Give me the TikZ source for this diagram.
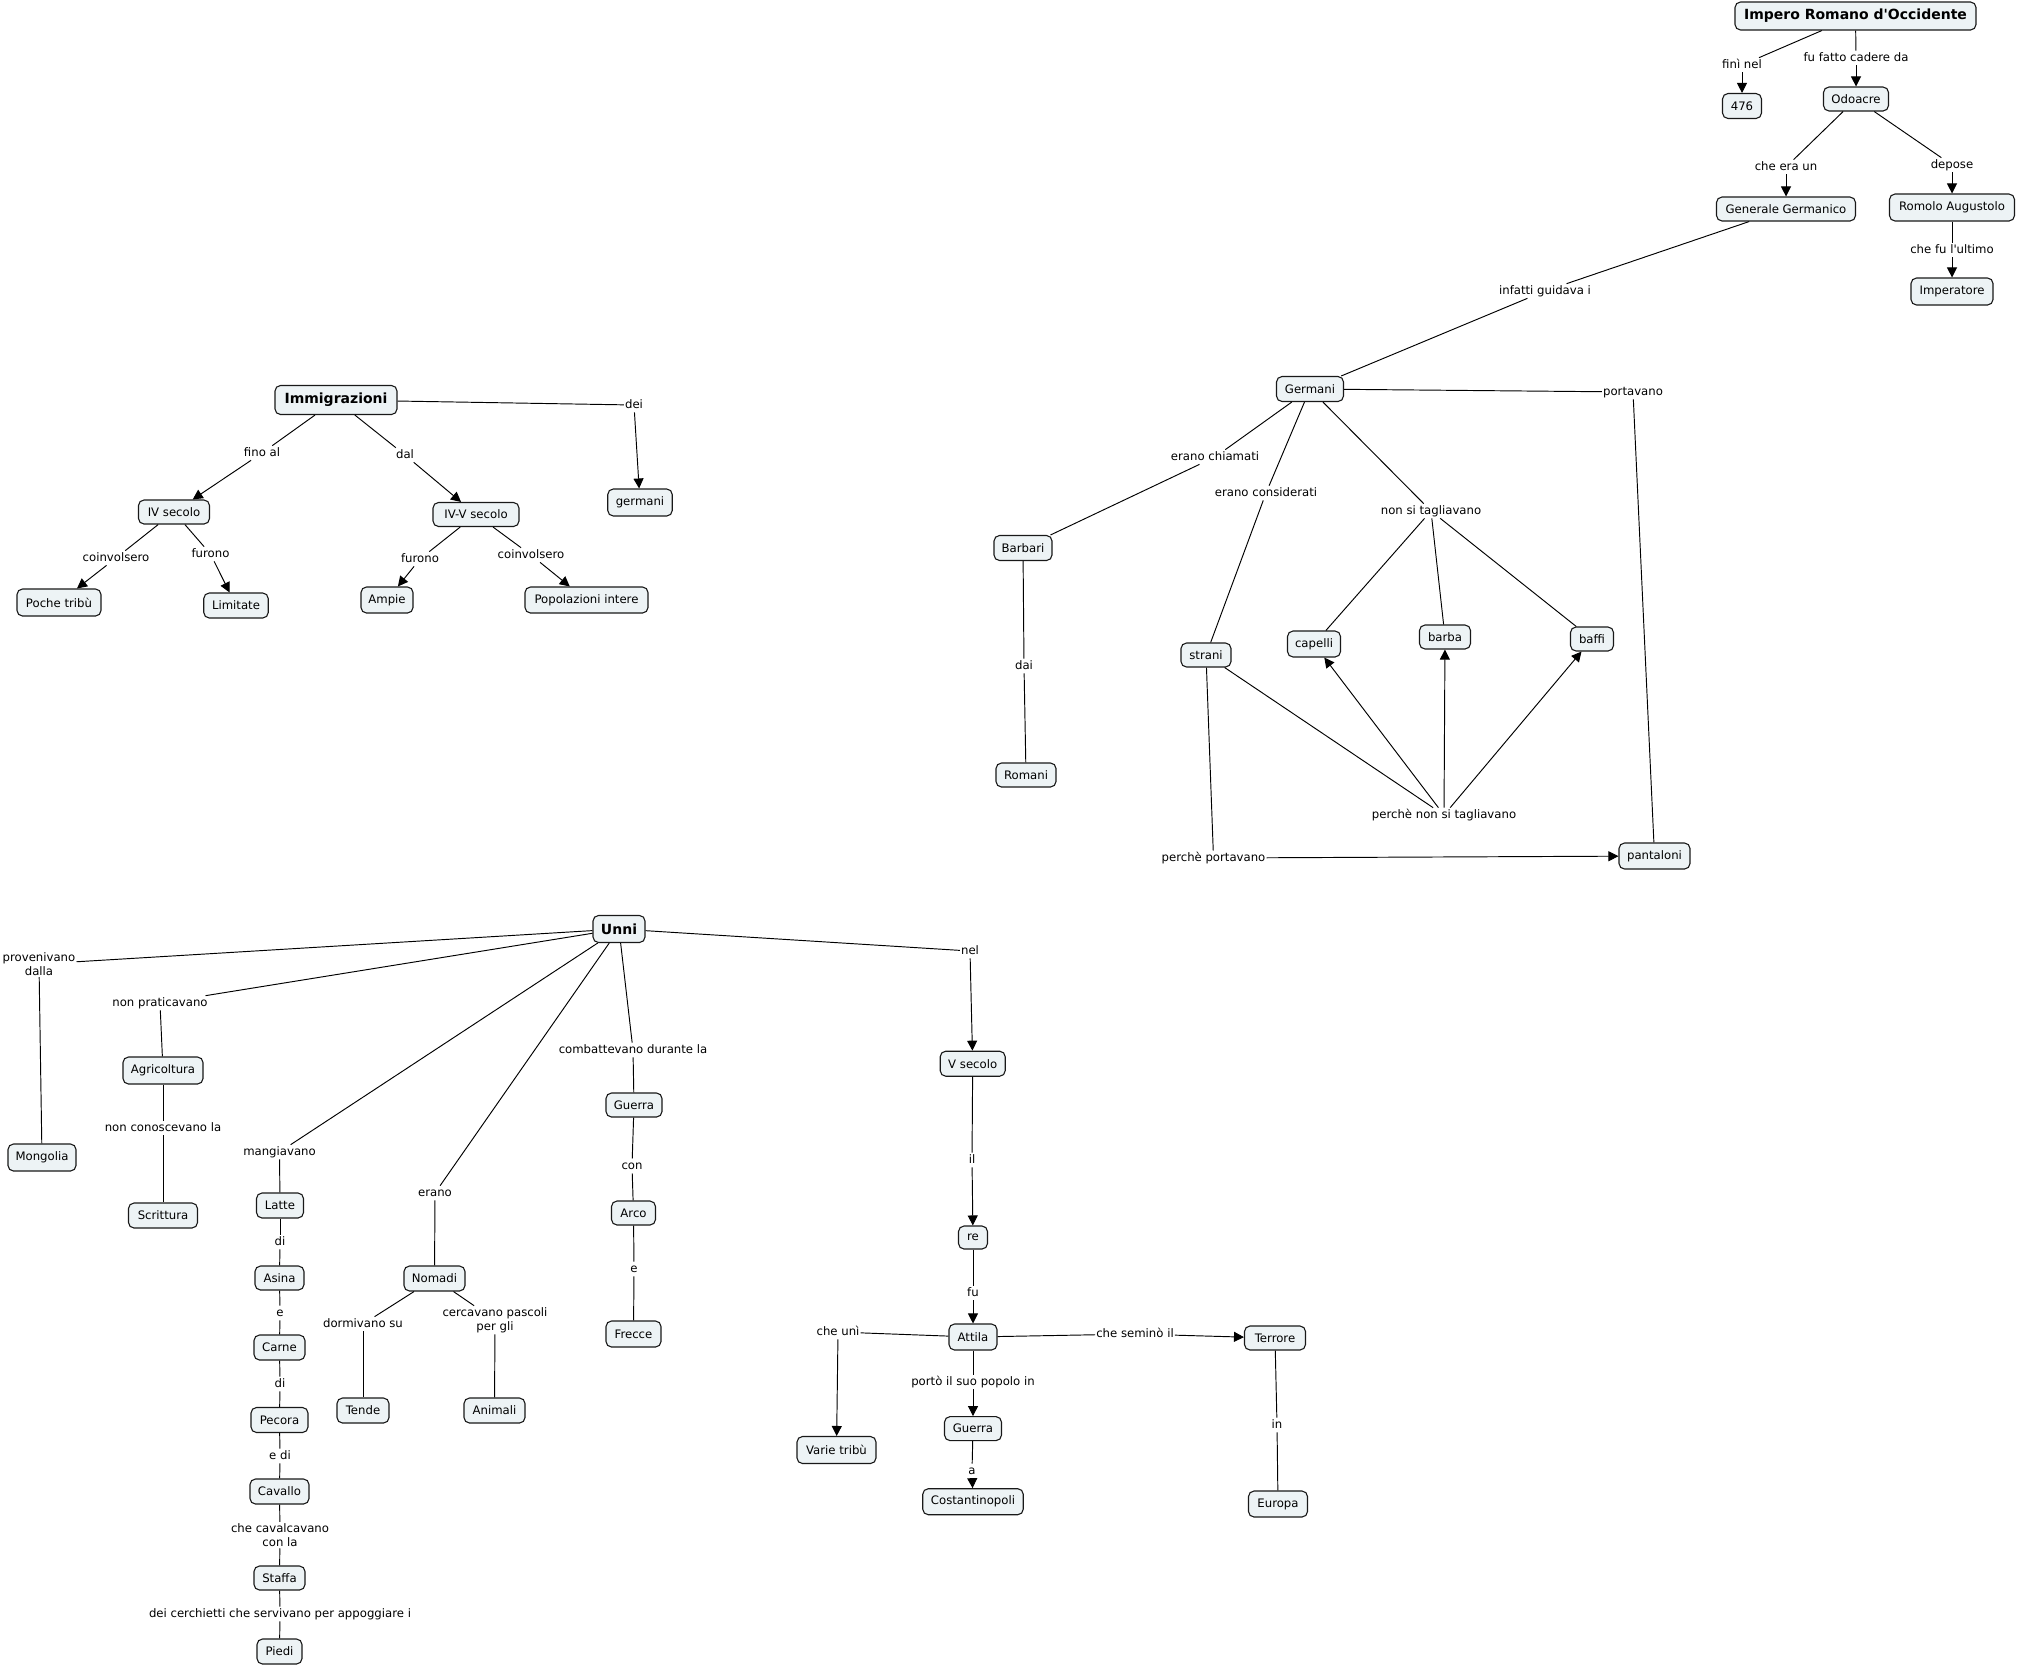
\documentclass[tikz,border=0pt]{standalone}
\usepackage{fontspec}
\setmainfont{DejaVu Sans}
\usetikzlibrary{arrows.meta}
\definecolor{cfill}{RGB}{237,243,245}
\definecolor{cline}{RGB}{25,25,25}
\begin{document}
\begin{tikzpicture}[x=1pt,y=-1pt,
 concept/.style={draw=cline, line width=1.1pt, fill=cfill, rounded corners=5.5pt, inner xsep=4pt, inner ysep=0pt, minimum height=25pt, font=\fontsize{11.7}{14}\selectfont},
 main/.style={concept, font=\fontsize{14}{16}\selectfont\bfseries, minimum height=28pt},
 lbl/.style={inner xsep=1pt, inner ysep=1.5pt, text height=8.7pt, text depth=2.6pt, font=\fontsize{11.7}{14}\selectfont},
 lbltwo/.style={inner xsep=1pt, inner ysep=1.5pt, align=center, font=\fontsize{11.7}{14}\selectfont},
 conn/.style={draw=black, line width=0.95pt},
 arr/.style={conn, -{Triangle[length=10pt,width=10pt]}},
]
\fill[white] (0,0) rectangle (2017,1666);
\useasboundingbox (0,0) rectangle (2017,1666);

% ---------- Impero Romano ----------
\node[main, minimum width=241pt] (impero) at (1855.5,16) {Impero Romano d\textquotesingle Occidente};
\node[concept, minimum width=39pt] (n476) at (1742,106) {476};
\node[concept, minimum width=65pt, minimum height=24pt] (odoacre) at (1856,99) {Odoacre};
\node[concept, minimum width=139pt, minimum height=24pt] (genger) at (1786,209) {Generale Germanico};
\node[concept, minimum width=125pt, minimum height=27pt] (romolo) at (1952,207.5) {Romolo Augustolo};
\node[concept, minimum width=82pt, minimum height=27pt] (imperatore) at (1952,291.5) {Imperatore};

\node[lbl] (lfini) at (1742,65) {finì nel};
\node[lbl] (lfatto) at (1856,58) {fu fatto cadere da};
\node[lbl] (lcheera) at (1786,167) {che era un};
\node[lbl] (ldepose) at (1952,165) {depose};
\node[lbl] (lultimo) at (1952,250) {che fu l\textquotesingle ultimo};
\node[lbl] (linfatti) at (1545,291) {infatti guidava i};

\draw[conn] (impero) -- (lfini);
\draw[arr] (lfini) -- (n476);
\draw[conn] (impero) -- (lfatto);
\draw[arr] (lfatto) -- (odoacre);
\draw[conn] (odoacre) -- (lcheera);
\draw[arr] (lcheera) -- (genger);
\draw[conn] (odoacre) -- (ldepose);
\draw[arr] (ldepose) -- (romolo);
\draw[conn] (romolo) -- (lultimo);
\draw[arr] (lultimo) -- (imperatore);

% ---------- Germani ----------
\node[concept, minimum width=67pt] (germani) at (1310,389) {Germani};
\node[concept, minimum width=58pt] (barbari) at (1023,548) {Barbari};
\node[concept, minimum width=60pt, minimum height=24pt] (romani) at (1026,775) {Romani};
\node[concept, minimum width=50pt, minimum height=24pt] (strani) at (1206,655) {strani};
\node[concept, minimum width=53pt, minimum height=26pt] (capelli) at (1314,644) {capelli};
\node[concept, minimum width=51pt, minimum height=24pt] (barba) at (1445,637) {barba};
\node[concept, minimum width=43pt, minimum height=24pt] (baffi) at (1592,639) {baffi};
\node[concept, minimum width=71pt, minimum height=26pt] (pantaloni) at (1654.5,856) {pantaloni};

\node[lbl] (lchiamati) at (1215,457) {erano chiamati};
\node[lbl] (lconsid) at (1266,493) {erano considerati};
\node[lbl] (lnonsi) at (1431,511) {non si tagliavano};
\node[lbl] (lportavano) at (1633,392) {portavano};
\node[lbl] (ldai) at (1024,666) {dai};
\node[lbl] (lperche) at (1444,815) {perchè non si tagliavano};
\node[lbl] (lperchep) at (1213.5,858) {perchè portavano};

\draw[conn] (genger) -- (linfatti);
\draw[conn] (linfatti) -- (germani);
\draw[conn] (germani) -- (lchiamati);
\draw[conn] (lchiamati) -- (barbari);
\draw[conn] (barbari) -- (ldai);
\draw[conn] (ldai) -- (romani);
\draw[conn] (germani) -- (lconsid);
\draw[conn] (lconsid) -- (strani);
\draw[conn] (germani) -- (lnonsi);
\draw[conn] (lnonsi) -- (capelli);
\draw[conn] (lnonsi) -- (barba);
\draw[conn] (lnonsi) -- (baffi);
\draw[conn] (germani) -- (lportavano);
\draw[conn] (lportavano) -- (pantaloni);
\draw[conn] (strani) -- (lperche);
\draw[arr] (lperche) -- (capelli);
\draw[arr] (lperche) -- (barba);
\draw[arr] (lperche) -- (baffi);
\draw[conn] (strani) -- (lperchep);
\draw[arr] (lperchep) -- (pantaloni);

% ---------- Immigrazioni ----------
\node[main, minimum width=122pt, minimum height=29pt] (immi) at (336,400) {Immigrazioni};
\node[concept, minimum width=71pt, minimum height=24pt] (ivsec) at (174,512) {IV secolo};
\node[concept, minimum width=86pt, minimum height=24pt] (ivvsec) at (476,514.5) {IV-V secolo};
\node[concept, minimum width=64.5pt, minimum height=27pt] (germanib) at (640,502.5) {germani};
\node[concept, minimum width=84pt, minimum height=27pt] (poche) at (59,602.5) {Poche tribù};
\node[concept, minimum width=64.5pt] (limitate) at (236,605.5) {Limitate};
\node[concept, minimum width=52pt, minimum height=26pt] (ampie) at (387,600) {Ampie};
\node[concept, minimum width=123pt, minimum height=26pt] (popol) at (586.5,600) {Popolazioni intere};

\node[lbl] (lfino) at (262,453) {fino al};
\node[lbl] (ldal) at (405,455) {dal};
\node[lbl] (ldei) at (634,405) {dei};
\node[lbl] (lcoinvA) at (116,558) {coinvolsero};
\node[lbl] (lfuronoA) at (210.5,554) {furono};
\node[lbl] (lfuronoB) at (420,559) {furono};
\node[lbl] (lcoinvB) at (531,555) {coinvolsero};

\draw[conn] (immi) -- (lfino);
\draw[arr] (lfino) -- (ivsec);
\draw[conn] (immi) -- (ldal);
\draw[arr] (ldal) -- (ivvsec);
\draw[conn] (immi) -- (ldei);
\draw[arr] (ldei) -- (germanib);
\draw[conn] (ivsec) -- (lcoinvA);
\draw[arr] (lcoinvA) -- (poche);
\draw[conn] (ivsec) -- (lfuronoA);
\draw[arr] (lfuronoA) -- (limitate);
\draw[conn] (ivvsec) -- (lfuronoB);
\draw[arr] (lfuronoB) -- (ampie);
\draw[conn] (ivvsec) -- (lcoinvB);
\draw[arr] (lcoinvB) -- (popol);

% ---------- Unni ----------
\node[main, minimum width=52pt, minimum height=27pt] (unni) at (619,929) {Unni};
\node[concept, minimum width=68pt, minimum height=27pt] (mongolia) at (42,1157.5) {Mongolia};
\node[concept, minimum width=80pt, minimum height=27pt] (agric) at (163,1070.5) {Agricoltura};
\node[concept, minimum width=69pt] (scrittura) at (163,1215.5) {Scrittura};
\node[concept, minimum width=47pt] (latte) at (280,1205.5) {Latte};
\node[concept, minimum width=49pt, minimum height=24pt] (asina) at (279.5,1278) {Asina};
\node[concept, minimum width=51pt] (carne) at (279.5,1347.5) {Carne};
\node[concept, minimum width=57pt] (pecora) at (279.5,1420) {Pecora};
\node[concept, minimum width=59pt] (cavallo) at (279.5,1491.5) {Cavallo};
\node[concept, minimum width=51pt, minimum height=24pt] (staffa) at (279.5,1578) {Staffa};
\node[concept, minimum width=45pt] (piedi) at (279.5,1651.5) {Piedi};
\node[concept, minimum width=61pt] (nomadi) at (434.5,1278.5) {Nomadi};
\node[concept, minimum width=52pt] (tende) at (363,1410.5) {Tende};
\node[concept, minimum width=61pt] (animali) at (494.5,1410.5) {Animali};
\node[concept, minimum width=56pt, minimum height=24pt] (guerraA) at (634,1105) {Guerra};
\node[concept, minimum width=44pt, minimum height=24pt] (arco) at (633.5,1213) {Arco};
\node[concept, minimum width=55pt, minimum height=26pt] (frecce) at (633.5,1334) {Frecce};
\node[concept, minimum width=65pt] (vsec) at (972.7,1063.7) {V secolo};
\node[concept, minimum width=29pt, minimum height=23pt] (re) at (973,1237.5) {re};
\node[concept, minimum width=48pt, minimum height=26pt] (attila) at (973,1337) {Attila};
\node[concept, minimum width=79pt, minimum height=27pt] (varie) at (836.5,1450) {Varie tribù};
\node[concept, minimum width=57pt, minimum height=24pt] (guerraB) at (973,1428.6) {Guerra};
\node[concept, minimum width=100.5pt, minimum height=26pt] (costant) at (973,1501.7) {Costantinopoli};
\node[concept, minimum width=61pt, minimum height=24pt] (terrore) at (1275,1338) {Terrore};
\node[concept, minimum width=59pt, minimum height=26pt] (europa) at (1278,1504) {Europa};

\node[lbltwo] (lprov) at (39,964) {provenivano\\dalla};
\node[lbl] (lnonprat) at (160,1003) {non praticavano};
\node[lbl] (lnoncon) at (163,1128) {non conoscevano la};
\node[lbl] (lmangia) at (279.5,1152) {mangiavano};
\node[lbl] (ldiA) at (280,1242) {di};
\node[lbl] (le) at (280,1313) {e};
\node[lbl] (ldiB) at (280,1384) {di};
\node[lbl] (ledi) at (280,1456) {e di};
\node[lbltwo] (lcaval) at (280,1535) {che cavalcavano\\con la};
\node[lbl] (lcerch) at (280,1614) {dei cerchietti che servivano per appoggiare i};
\node[lbl] (lerano) at (435,1193) {erano};
\node[lbl] (ldorm) at (363,1324) {dormivano su};
\node[lbltwo] (lcerc) at (495,1320) {cercavano pascoli\\per gli};
\node[lbl] (lcomb) at (633,1050) {combattevano durante la};
\node[lbl] (lcon) at (632,1166) {con};
\node[lbl] (leB) at (634,1269) {e};
\node[lbl] (lnel) at (970,951) {nel};
\node[lbl] (lil) at (972,1160) {il};
\node[lbl] (lfu) at (973,1293) {fu};
\node[lbl] (lcheuni) at (838,1332) {che unì};
\node[lbl] (lporto) at (973,1382) {portò il suo popolo in};
\node[lbl] (la) at (972,1471) {a};
\node[lbl] (lsemino) at (1135,1334) {che seminò il};
\node[lbl] (lin) at (1277,1425) {in};

\draw[conn] (unni) -- (lprov);
\draw[conn] (lprov) -- (mongolia);
\draw[conn] (unni) -- (lnonprat);
\draw[conn] (lnonprat) -- (agric);
\draw[conn] (agric) -- (lnoncon);
\draw[conn] (lnoncon) -- (scrittura);
\draw[conn] (unni) -- (lmangia);
\draw[conn] (lmangia) -- (latte);
\draw[conn] (latte) -- (ldiA);
\draw[conn] (ldiA) -- (asina);
\draw[conn] (asina) -- (le);
\draw[conn] (le) -- (carne);
\draw[conn] (carne) -- (ldiB);
\draw[conn] (ldiB) -- (pecora);
\draw[conn] (pecora) -- (ledi);
\draw[conn] (ledi) -- (cavallo);
\draw[conn] (cavallo) -- (lcaval);
\draw[conn] (lcaval) -- (staffa);
\draw[conn] (staffa) -- (lcerch);
\draw[conn] (lcerch) -- (piedi);
\draw[conn] (unni) -- (lerano);
\draw[conn] (lerano) -- (nomadi);
\draw[conn] (nomadi) -- (ldorm);
\draw[conn] (ldorm) -- (tende);
\draw[conn] (nomadi) -- (lcerc);
\draw[conn] (lcerc) -- (animali);
\draw[conn] (unni) -- (lcomb);
\draw[conn] (lcomb) -- (guerraA);
\draw[conn] (guerraA) -- (lcon);
\draw[conn] (lcon) -- (arco);
\draw[conn] (arco) -- (leB);
\draw[conn] (leB) -- (frecce);
\draw[conn] (unni) -- (lnel);
\draw[arr] (lnel) -- (vsec);
\draw[conn] (vsec) -- (lil);
\draw[arr] (lil) -- (re);
\draw[conn] (re) -- (lfu);
\draw[arr] (lfu) -- (attila);
\draw[conn] (attila) -- (lcheuni);
\draw[arr] (lcheuni) -- (varie);
\draw[conn] (attila) -- (lporto);
\draw[arr] (lporto) -- (guerraB);
\draw[conn] (guerraB) -- (la);
\draw[arr] (la) -- (costant);
\draw[conn] (attila) -- (lsemino);
\draw[arr] (lsemino) -- (terrore);
\draw[conn] (terrore) -- (lin);
\draw[conn] (lin) -- (europa);
\end{tikzpicture}
\end{document}
